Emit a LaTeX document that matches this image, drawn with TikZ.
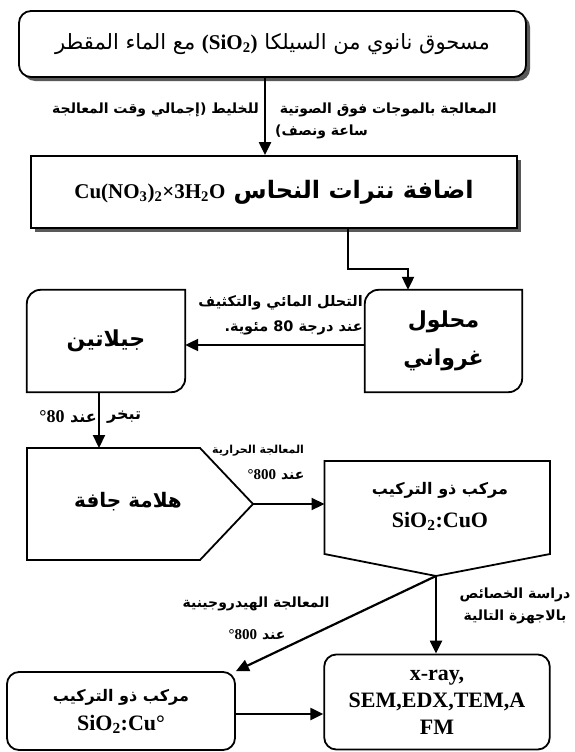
\documentclass[tikz,border=0pt]{standalone}
\usepackage{fontspec}
\usetikzlibrary{arrows.meta, positioning, shadows}
\TeXXeTstate=1
\newfontfamily\arabicfont[Script=Arabic]{DejaVu Sans}
\newfontfamily\latinfont{Liberation Serif}
\newcommand{\lattxt}[2][]{\beginL{\latinfont\bfseries#1\relax#2}\endL}

\begin{document}
\begin{tikzpicture}[x=1pt,y=-1pt,
  flow/.style={line width=2.2pt,-{Triangle[length=13pt,width=12pt]}},
  boxline/.style={line width=1.8pt},
  titlebox/.style={boxline,draw,fill=white,inner sep=2pt,drop shadow={shadow xshift=4pt,shadow yshift=-4pt,fill=black!65,opacity=1}},
  roundbox/.style={boxline,draw,rounded corners=12pt,inner sep=2pt,align=center},
  plainbox/.style={inner sep=2pt,align=center},
  lbl/.style={font=\arabicfont\bfseries\fontsize{14}{22}\selectfont,inner sep=0pt,align=center}]

\useasboundingbox (0,0) rectangle (575,752);

\node[titlebox,rounded corners=12pt,minimum width=507pt,minimum height=66pt,font=\arabicfont\fontsize{21}{24}\selectfont] (powder) at (272.5,44) {\beginR مسحوق نانوي من السيلكا \lattxt[\fontsize{21}{24}\selectfont]{(SiO\textsubscript{2})} مع الماء المقطر\endR};
\node[titlebox,minimum width=486pt,minimum height=72pt,font=\arabicfont\bfseries\fontsize{24}{28}\selectfont] (nitrate) at (274,192) {\beginR اضافة نترات النحاس \lattxt[\fontsize{21}{24}\selectfont]{Cu(NO\textsubscript{3})\textsubscript{2}×3H\textsubscript{2}O}\endR};

\node[plainbox,minimum width=157pt,minimum height=102pt,font=\arabicfont\bfseries\fontsize{22}{38}\selectfont] (colloid) at (443.5,341) {\beginR محلول\endR\\\beginR غرواني\endR};
\node[plainbox,minimum width=158pt,minimum height=102pt,font=\arabicfont\bfseries\fontsize{22}{26}\selectfont] (gelatin) at (106,341) {\raisebox{-9pt}{\beginR جيلاتين\endR}};
\draw[boxline] ([yshift=-14pt]colloid.north west) .. controls ([yshift=-6pt]colloid.north west) and ([xshift=6pt]colloid.north west) .. ([xshift=14pt]colloid.north west) -- (colloid.north east) -- ([yshift=14pt]colloid.south east) .. controls ([yshift=6pt]colloid.south east) and ([xshift=-6pt]colloid.south east) .. ([xshift=-14pt]colloid.south east) -- (colloid.south west) -- cycle;
\draw[boxline] ([yshift=-14pt]gelatin.north west) .. controls ([yshift=-6pt]gelatin.north west) and ([xshift=6pt]gelatin.north west) .. ([xshift=14pt]gelatin.north west) -- (gelatin.north east) -- ([yshift=14pt]gelatin.south east) .. controls ([yshift=6pt]gelatin.south east) and ([xshift=-6pt]gelatin.south east) .. ([xshift=-14pt]gelatin.south east) -- (gelatin.south west) -- cycle;

\coordinate (dryNW) at (27,448);
\coordinate (dryNE) at (200,448);
\coordinate (dryTip) at (253,504);
\coordinate (drySE) at (200,560);
\coordinate (drySW) at (27,560);
\draw[boxline] (dryNW) -- (dryNE) -- (dryTip) -- (drySE) -- (drySW) -- cycle;
\node[font=\arabicfont\bfseries\fontsize{20}{24}\selectfont] (drygel) at (128,502) {\beginR هلامة جافة\endR};

\coordinate (cuoNW) at (324.5,461);
\coordinate (cuoNE) at (550,461);
\coordinate (cuoSE) at (550,554);
\coordinate (cuoTip) at (436,576);
\coordinate (cuoSW) at (324.5,554);
\draw[boxline] (cuoNW) -- (cuoNE) -- (cuoSE) -- (cuoTip) -- (cuoSW) -- cycle;
\node[font=\arabicfont\bfseries\fontsize{16}{20}\selectfont] (cuoname) at (440,490) {\beginR مركب ذو التركيب\endR};
\node[font=\latinfont\bfseries\fontsize{22}{24}\selectfont] (cuoformula) at (440,521) {SiO\textsubscript{2}:CuO};

\node[roundbox,minimum width=228pt,minimum height=78pt,font=\arabicfont\bfseries\fontsize{16}{29}\selectfont] (cucomp) at (121,711) {\beginR مركب ذو التركيب\endR\\{\latinfont\fontsize{22}{24}\selectfont SiO\textsubscript{2}:Cu°}};
\node[roundbox,minimum width=225.5pt,minimum height=95pt,font=\latinfont\bfseries\fontsize{22}{27}\selectfont] (devices) at (437,702) {x-ray,\\SEM,EDX,TEM,A\\FM};

\draw[flow] ([xshift=-7.5pt]powder.south) -- ([xshift=-7.5pt]powder.south |- nitrate.north);
\draw[flow] ([xshift=74pt]nitrate.south) -- ++(0,40) -| ([xshift=-35.5pt]colloid.north);
\draw[flow] ([yshift=-4pt]colloid.west) -- ([yshift=-4pt]gelatin.east);
\draw[flow] ([xshift=-7pt]gelatin.south) -- ([xshift=-7pt]gelatin.south |- dryNW);
\draw[flow] (dryTip) -- (dryTip -| cuoNW);
\draw[flow] (cuoTip) -- (cuoTip |- devices.north);
\draw[flow] (cuoTip) -- (cucomp.north east);
\draw[flow] ([yshift=-3pt]cucomp.east) -- ([yshift=-3pt]cucomp.east -| devices.west);

\node[lbl,anchor=east] (sonic1) at (497,110) {\beginR المعالجة بالموجات فوق الصوتية\endR};
\node[lbl,anchor=east] (sonic2) at (259,110) {\beginR للخليط (إجمالي وقت المعالجة\endR};
\node[lbl,anchor=west] (sonic3) at (275,132) {\beginR ساعة ونصف)\endR};
\node[lbl,anchor=east,align=right,font=\arabicfont\bfseries\fontsize{14.5}{25}\selectfont] (hydrolysis) at (363,315) {\beginR التحلل المائي والتكثيف\endR\\\beginR عند درجة 80 مئوية.\endR};
\node[lbl,anchor=west,font=\arabicfont\bfseries\fontsize{16}{20}\selectfont] (evap1) at (107,417) {\beginR تبخر\endR};
\node[lbl,anchor=east,font=\arabicfont\bfseries\fontsize{16}{20}\selectfont] (evap2) at (97,417) {\beginR عند \lattxt[\fontsize{18}{20}\selectfont]{°80}\endR};
\node[lbl,anchor=west,font=\arabicfont\bfseries\fontsize{11}{14}\selectfont] (heat1) at (212,451) {\beginR المعالجة الحرارية\endR};
\node[lbl] (heat2) at (276,475) {\beginR عند \lattxt[\fontsize{15}{18}\selectfont]{°800}\endR};
\node[lbl] (study) at (515,606) {\beginR دراسة الخصائص\endR\\\beginR بالاجهزة التالية\endR};
\node[lbl] (hyd1) at (256,604) {\beginR المعالجة الهيدروجينية\endR};
\node[lbl] (hyd2) at (257,635) {\beginR عند \lattxt[\fontsize{15}{18}\selectfont]{°800}\endR};
\end{tikzpicture}
\end{document}
